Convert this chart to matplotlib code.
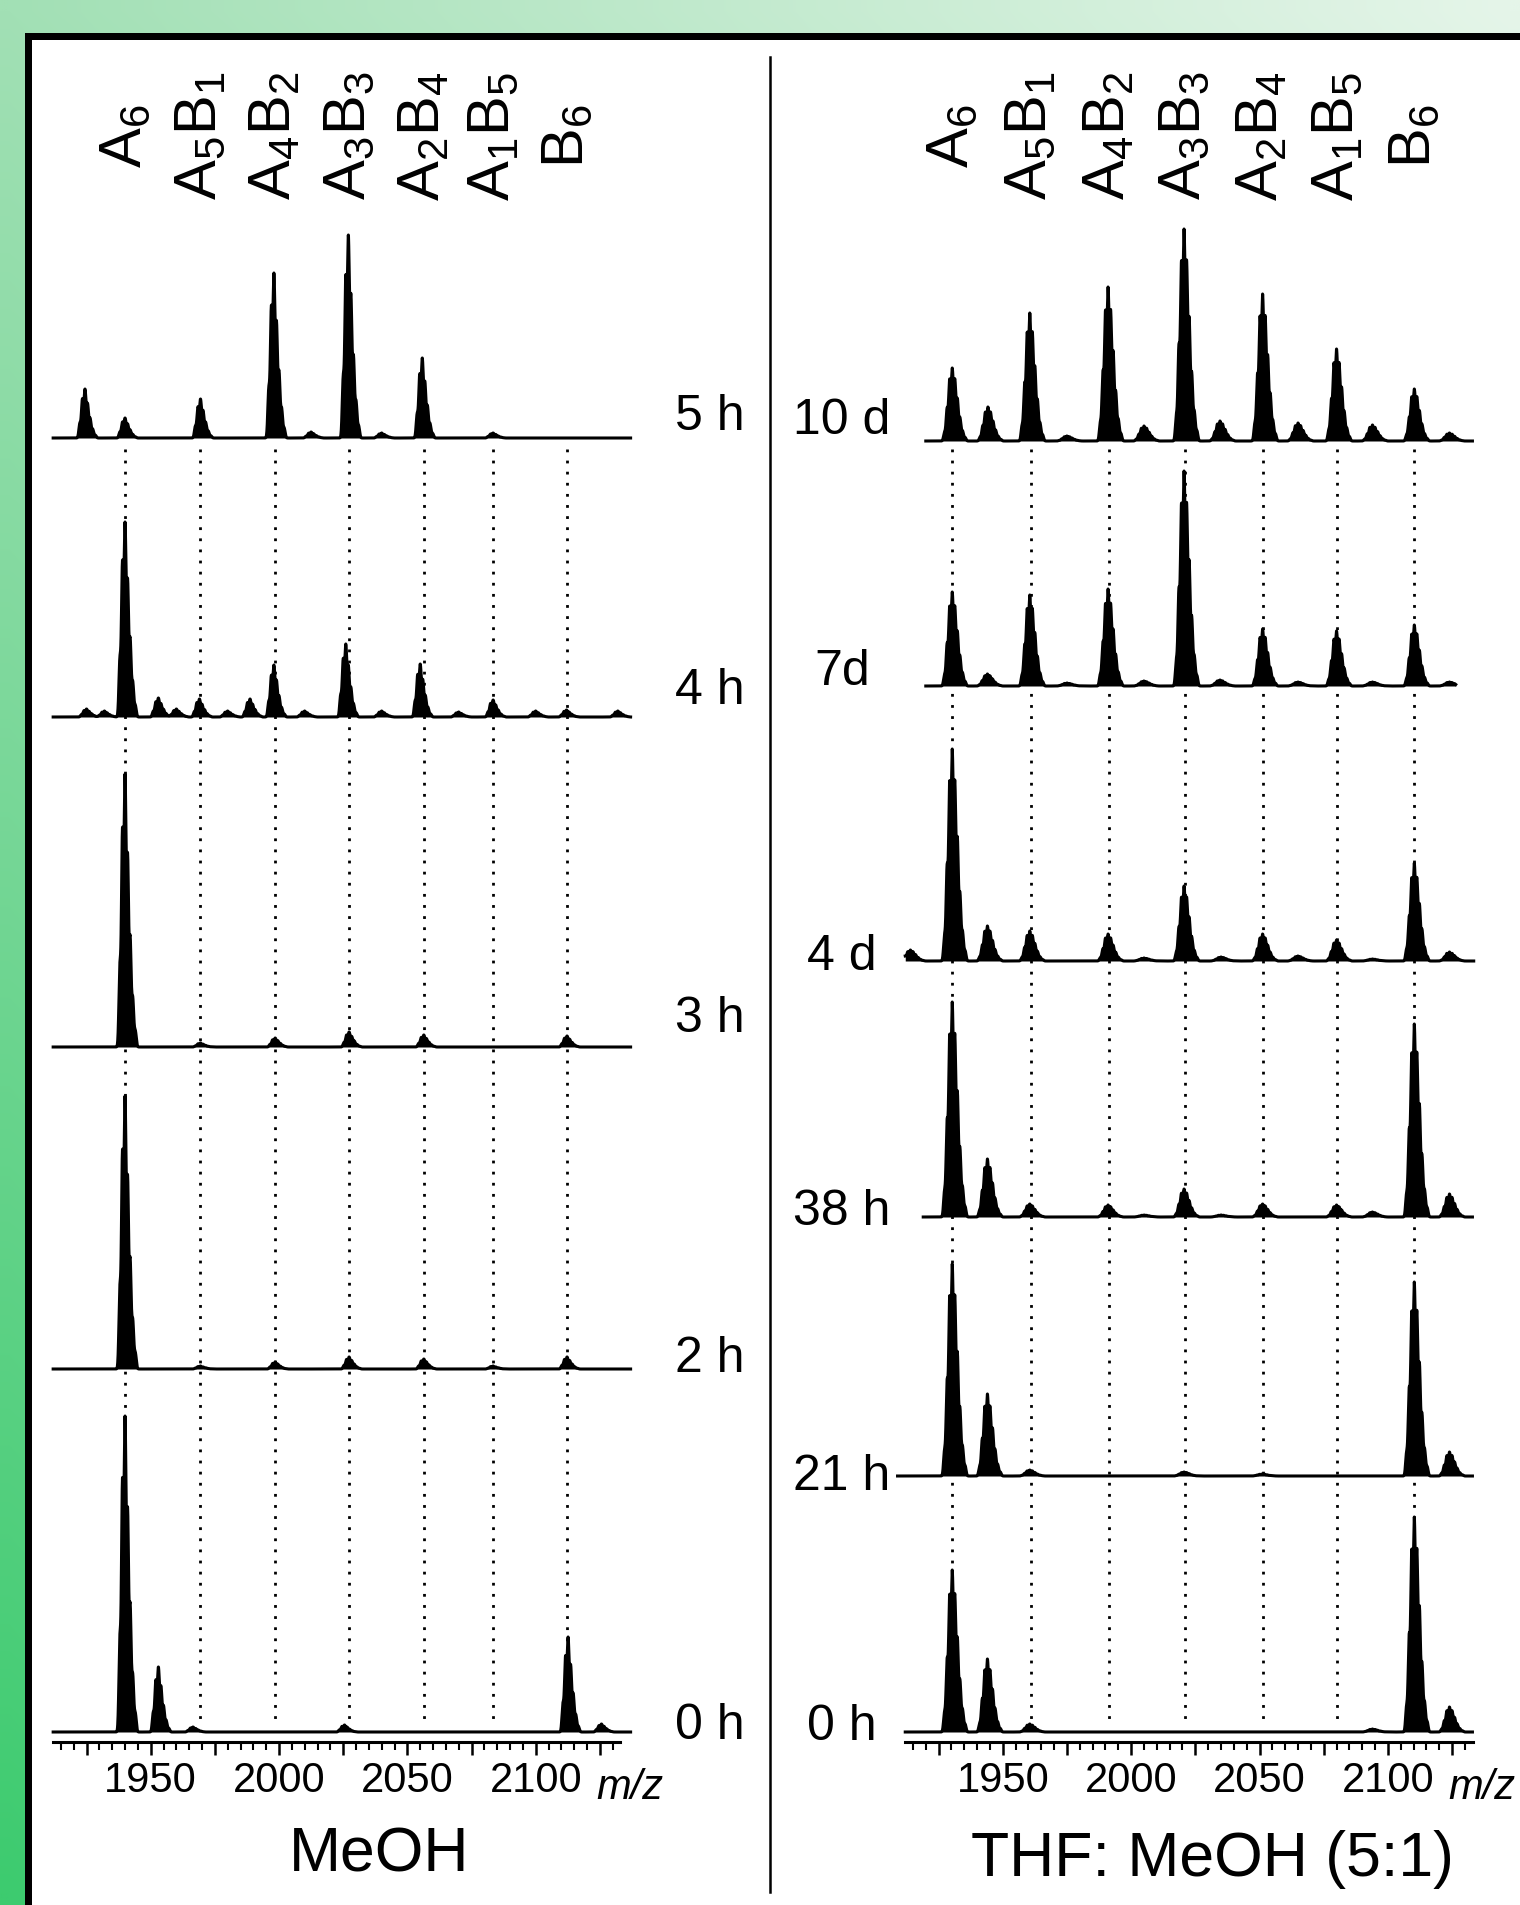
import numpy as np
import matplotlib
matplotlib.use("Agg")
import matplotlib.pyplot as plt
from matplotlib.patches import Rectangle
from matplotlib.ticker import FixedLocator, FuncFormatter

plt.rcParams['font.family'] = ['Liberation Sans', 'DejaVu Sans']
plt.rcParams['mathtext.default'] = 'regular'

# ---------------- data ----------------
species = ['A$_6$', 'A$_5$B$_1$', 'A$_4$B$_2$', 'A$_3$B$_3$', 'A$_2$B$_4$', 'A$_1$B$_5$', 'B$_6$']
left_species_mz = [1940.0, 1969.4, 1998.5, 2027.3, 2056.4, 2083.4, 2112.2]
right_species_mz = [1930.3, 1960.8, 1991.3, 2020.8, 2051.2, 2080.2, 2110.3]

left_times = ['5 h', '4 h', '3 h', '2 h', '0 h']
right_times = ['10 d', '7d', '4 d', '38 h', '21 h', '0 h']

# peak lists (m/z of maximum, height)
left_5h_mz = [1924.4, 1940.0, 1969.4, 1998.0, 2012.5, 2027.0, 2040.0, 2055.8, 2083.4]
left_5h_h = [49, 20, 39, 165, 6, 203, 5, 80, 5]
left_4h_mz = [1925.0, 1932.0, 1940.0, 1953.0, 1960.0, 1969.0, 1980.0, 1988.7, 1998.0, 2010.0,
              2026.0, 2040.0, 2055.0, 2070.0, 2083.4, 2100.0, 2112.0, 2132.0]
left_4h_h = [8, 6, 195, 19, 8, 18, 6, 18, 52, 6, 73, 6, 53, 5, 17, 6, 7, 6]
left_3h_mz = [1940.0, 1969.4, 1998.5, 2027.3, 2056.4, 2112.2]
left_3h_h = [273, 4, 9, 15, 12, 11]
left_2h_mz = [1940.0, 1969.4, 1998.5, 2027.3, 2056.4, 2083.4, 2112.2]
left_2h_h = [273, 3, 7, 12, 10, 3, 12]
left_0h_mz = [1940.0, 1953.0, 1966.5, 2025.5, 2112.6, 2125.6]
left_0h_h = [316, 65, 5, 7, 95, 8]

right_10d_mz = [1930.3, 1944.2, 1960.5, 1975.0, 1991.0, 2005.0, 2020.6, 2034.6, 2051.2, 2065.0,
                2080.0, 2094.0, 2110.3, 2124.0]
right_10d_h = [73, 34, 128, 5, 154, 15, 212, 20, 147, 18, 92, 16, 52, 8]
right_7d_mz = [1930.3, 1944.0, 1960.5, 1975.0, 1991.0, 2005.0, 2020.6, 2034.6, 2051.2, 2065.0,
               2080.0, 2094.0, 2110.3, 2124.0]
right_7d_h = [94, 12, 91, 3, 97, 5, 215, 6, 57, 4, 55, 4, 61, 4]
right_4d_mz = [1914.0, 1930.3, 1944.0, 1960.5, 1991.0, 2005.0, 2020.6, 2035.0, 2051.2, 2065.0,
               2080.0, 2094.0, 2110.3, 2124.0]
right_4d_h = [11, 212, 35, 30, 27, 3, 75, 4, 27, 5, 21, 2, 98, 9]
right_38h_mz = [1930.3, 1944.0, 1960.5, 1991.0, 2005.0, 2020.6, 2035.0, 2051.2, 2080.0, 2094.0,
                2110.3, 2124.0]
right_38h_h = [215, 58, 13, 12, 2, 28, 2, 13, 12, 5, 193, 23]
right_21h_mz = [1930.3, 1944.0, 1960.5, 2020.6, 2051.0, 2110.3, 2124.0]
right_21h_h = [212, 82, 6, 4, 2, 194, 24]
right_0h_mz = [1930.3, 1944.0, 1960.5, 2094.0, 2110.3, 2124.0]
right_0h_h = [162, 73, 8, 3, 215, 25]

left_spectra = [(left_5h_mz, left_5h_h), (left_4h_mz, left_4h_h), (left_3h_mz, left_3h_h),
                (left_2h_mz, left_2h_h), (left_0h_mz, left_0h_h)]
right_spectra = [(right_10d_mz, right_10d_h), (right_7d_mz, right_7d_h), (right_4d_mz, right_4d_h),
                 (right_38h_mz, right_38h_h), (right_21h_mz, right_21h_h), (right_0h_mz, right_0h_h)]

left_ranges = [(1912, 2137)] * 5
right_ranges = [(1920, 2133), (1920, 2126.5), (1912, 2133.5), (1919, 2133), (1909, 2133), (1912, 2133)]

tick_major = list(range(1925, 2126, 25))
tick_minor = list(range(1915, 2131, 5))

# ---------------- layout / style ----------------
W, H = 1520, 1906
PX_PER_MZ = 2.567
iso_offsets = np.arange(-3, 6)
left_iso = np.array([0.0, 0.3, 0.8, 1.0, 0.7, 0.4, 0.18, 0.06, 0.0])
right_iso = np.array([0.12, 0.45, 0.85, 1.0, 0.85, 0.58, 0.32, 0.14, 0.05])
ISO_SIGMA = 0.38

left_baselines = [439, 718, 1048, 1370, 1733]
right_baselines = [442, 687, 962, 1218, 1477, 1733]
left_label_ys = [417, 691, 1019, 1359, 1726]
right_label_ys = [421, 672, 957, 1212, 1477, 1727]

fig = plt.figure(figsize=(W / 100, H / 100), dpi=100)

# background gradient + frame
bg = fig.add_axes([0, 0, 1, 1])
gx = np.linspace(0, 1, 80)
gy = np.linspace(0, 1, 80)
X, Y = np.meshgrid(gx, gy)
TL = np.array([162, 224, 181]) / 255
TR = np.array([229, 245, 233]) / 255
BL = np.array([61, 203, 111]) / 255
BR = np.clip(TR + BL - TL, 0, 1)
img = ((1 - X) * (1 - Y))[..., None] * TL + (X * (1 - Y))[..., None] * TR + \
      ((1 - X) * Y)[..., None] * BL + (X * Y)[..., None] * BR
bg.imshow(img, extent=(0, W, H, 0), aspect='auto', interpolation='bilinear', zorder=0)
bg.add_patch(Rectangle((27.5, 36.5), W + 60, H + 60, facecolor='white', edgecolor='black',
                       linewidth=7 * 0.72, zorder=1))
bg.plot([770, 770], [58, 1893], color='black', lw=1.8, zorder=2)
bg.set_xlim(0, W)
bg.set_ylim(H, 0)
bg.axis('off')


def spectrum(grid, mzs, hs, iso):
    # normalise the isotope envelope so that its maximum equals the peak height
    def env(x):
        return sum(w * np.exp(-0.5 * ((x - off) / ISO_SIGMA) ** 2)
                   for off, w in zip(iso_offsets, iso) if w > 0)
    fine = np.arange(-4, 7, 0.01)
    norm = env(fine).max()
    y = np.zeros_like(grid)
    for m, h in zip(mzs, hs):
        y += h * env(grid - m) / norm
    return y


def draw_panel(px0, px1, anchor_px, species_mz, spectra, ranges, baselines, iso,
               times, label_x, label_ys, title, title_xy):
    ax = fig.add_axes([px0 / W, 0, (px1 - px0) / W, 1])
    ax.patch.set_alpha(0)
    ax.set_xlim(1950 + (px0 - anchor_px) / PX_PER_MZ, 1950 + (px1 - anchor_px) / PX_PER_MZ)
    ax.set_ylim(H, 0)
    for s in ['left', 'right', 'top']:
        ax.spines[s].set_visible(False)
    ax.spines['bottom'].set_position(('data', 1743))
    ax.spines['bottom'].set_bounds(1912, 2133)
    ax.spines['bottom'].set_linewidth(2.2)
    ax.yaxis.set_visible(False)
    ax.xaxis.set_major_locator(FixedLocator(tick_major))
    ax.xaxis.set_minor_locator(FixedLocator(tick_minor))
    ax.xaxis.set_major_formatter(FuncFormatter(lambda v, p: f'{v:.0f}' if v % 50 == 0 else ''))
    ax.tick_params(which='major', direction='out', length=9.4, width=1.8, pad=3.5, labelsize=30)
    ax.tick_params(which='minor', direction='out', length=5.8, width=1.5)

    # dotted guide lines
    for m in species_mz:
        ax.plot([m, m], [450, 1724], color='black', lw=2.0, linestyle=(0, (1, 3)), zorder=1)

    # spectra
    for (mzs, hs), (a, b), base in zip(spectra, ranges, baselines):
        grid = np.arange(a, b, 0.05)
        y = spectrum(grid, mzs, hs, iso)
        ax.fill_between(grid, base, base - y, color='black', lw=0, zorder=2)
        ax.plot(grid, base - y, color='black', lw=2.2, zorder=3)

    # species labels
    for m, lab in zip(species_mz, species):
        ax.text(m, 136, lab, rotation=90, ha='center', va='center', fontsize=43)

    ax.text(2136.7, 1799, 'm/z', style='italic', fontsize=30, ha='center', va='baseline')

    for t, y in zip(times, label_ys):
        bg.text(label_x, y, t, ha='center', va='center', fontsize=36)
    bg.text(title_xy[0], title_xy[1], title, ha='center', va='center', fontsize=45)


draw_panel(40, 660, 150.7, left_species_mz, left_spectra, left_ranges, left_baselines, left_iso,
           left_times, 710, left_label_ys, 'MeOH', (379, 1855))
draw_panel(890, 1510, 1002.8, right_species_mz, right_spectra, right_ranges, right_baselines, right_iso,
           right_times, 842, right_label_ys, 'THF: MeOH (5:1)', (1212, 1860))

fig.savefig('out.png', dpi=100)
